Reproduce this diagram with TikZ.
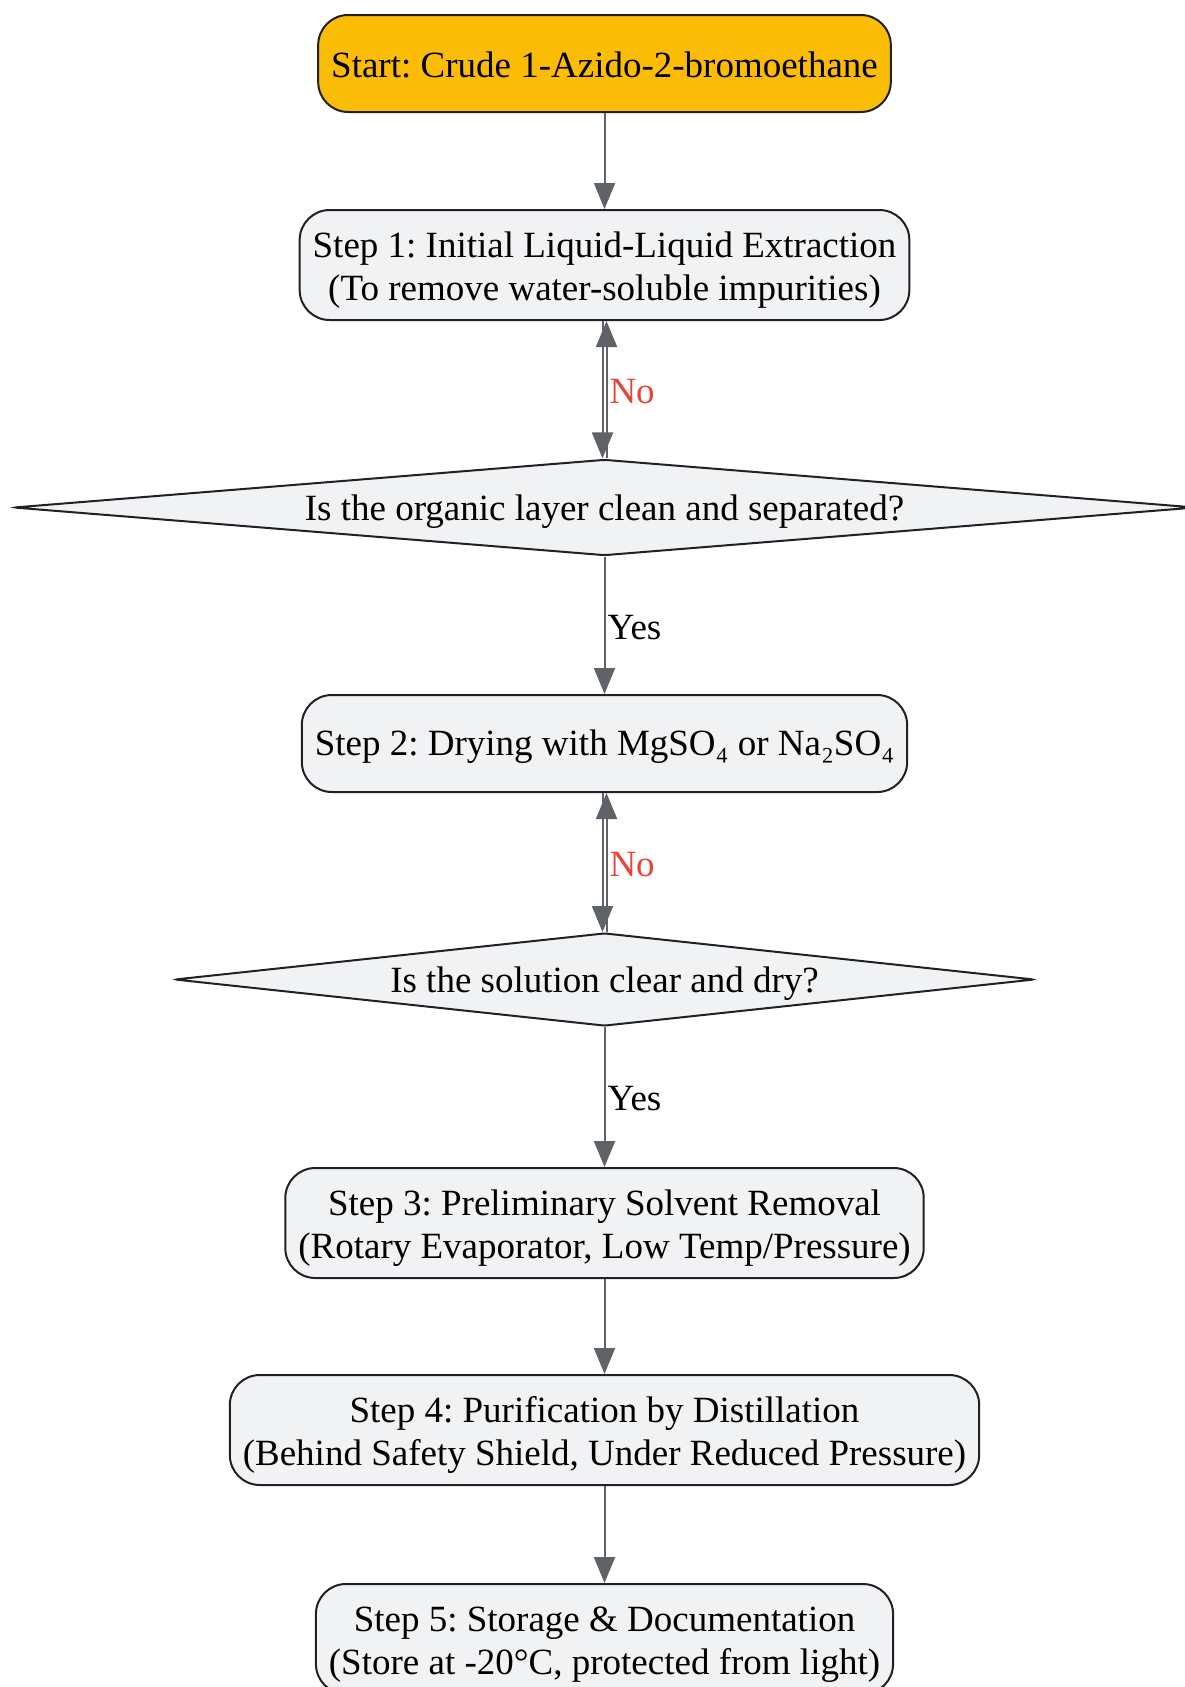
\documentclass[tikz,border=0pt]{standalone}
\usepackage{fontspec}
\setmainfont{Liberation Serif}
\usetikzlibrary{shapes.geometric,arrows.meta}
\definecolor{startfill}{HTML}{FBBC05}
\definecolor{boxfill}{HTML}{F1F2F4}
\definecolor{boxline}{HTML}{202124}
\definecolor{arrowgray}{HTML}{5F6368}
\definecolor{nored}{HTML}{EA4335}
\frenchspacing

\begin{document}
\begin{tikzpicture}[x=1pt,y=-1pt,
		stepbox/.style={draw=boxline, line width=2pt, fill=boxfill, rounded corners=30pt,
			align=center, inner xsep=13pt, inner ysep=2pt, minimum height=110pt,
			text height=80pt, text depth=8.5pt, font=\fontsize{37}{43}\selectfont},
		oneline/.style={minimum height=97pt, text height=30pt, text depth=6pt},
		decision/.style={diamond, draw=boxline, line width=2pt, fill=boxfill, aspect=10,
			inner sep=1pt, rounded corners=3pt, minimum height=93pt,
			text height=30pt, text depth=4pt, font=\fontsize{37}{43}\selectfont},
		flow/.style={draw=arrowgray, line width=2pt, -{Triangle[length=26pt,width=21pt]}},
		edgelabel/.style={right, inner sep=0pt, xshift=2pt, yshift=-2pt, font=\fontsize{37}{43}\selectfont}]
			\useasboundingbox (0,0) rectangle (1185,1687);

			% nodes, top to bottom
			\node[stepbox, oneline, fill=startfill, text height=27pt, text depth=0pt] (start) at (604.5,63.5) {Start: Crude 1-Azido-2-bromoethane};
			\node[stepbox] (s1) at (604.5,265) {Step 1: Initial Liquid-Liquid Extraction\\(To remove water-soluble impurities)};
			\node[decision, minimum width=1182pt] (d1) at (604.5,507.5) {Is the organic layer clean and separated?};
			\node[stepbox, oneline] (s2) at (604.5,743.5) {Step 2: Drying with MgSO₄ or Na₂SO₄};
			\node[decision, minimum width=860pt] (d2) at (604.5,979.5) {Is the solution clear and dry?};
			\node[stepbox] (s3) at (604.5,1223) {Step 3: Preliminary Solvent Removal\\(Rotary Evaporator, Low Temp/Pressure)};
			\node[stepbox] (s4) at (604.5,1430) {Step 4: Purification by Distillation\\(Behind Safety Shield, Under Reduced Pressure)};
			\node[stepbox] (s5) at (604.5,1639) {Step 5: Storage \& Documentation\\(Store at -20°C, protected from light)};

			% connectors
			\draw[flow] (start) -- (s1);
			\draw[flow] ([xshift=-2pt]s1.south) -- ([xshift=-2pt]d1.north);
			\draw[flow] ([xshift=2pt]d1.north) -- ([xshift=2pt]s1.south) node[midway, edgelabel, text=nored] {No};
			\draw[flow] (d1) -- (s2) node[midway, edgelabel] {Yes};
			\draw[flow] ([xshift=-2pt]s2.south) -- ([xshift=-2pt]d2.north);
			\draw[flow] ([xshift=2pt]d2.north) -- ([xshift=2pt]s2.south) node[midway, edgelabel, text=nored] {No};
			\draw[flow] (d2) -- (s3) node[midway, edgelabel] {Yes};
			\draw[flow] (s3) -- (s4);
			\draw[flow] (s4) -- (s5);
		\end{tikzpicture}
\end{document}
